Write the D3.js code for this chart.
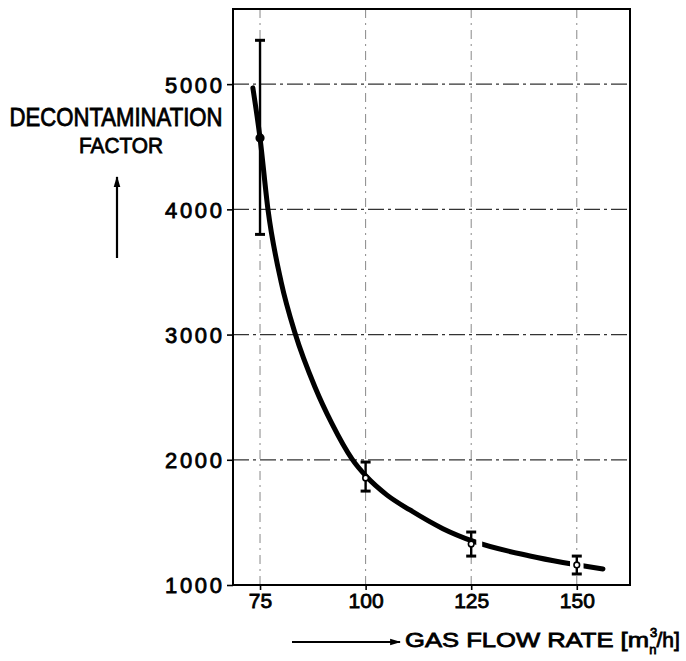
<!DOCTYPE html>
<html>
<head>
<meta charset="utf-8">
<script src="https://cdn.jsdelivr.net/npm/d3@7/dist/d3.min.js"></script>
<style>
  html, body { margin: 0; padding: 0; background: #fff; }
  svg { display: block; }
  text { font-family: "Liberation Sans", Arial, sans-serif; fill: #000; }
</style>
</head>
<body>
<svg id="chart" width="686" height="661"></svg>
<script>
// ---- data ----
const xTicks = [75, 100, 125, 150];
const yTicks = [1000, 2000, 3000, 4000, 5000];
const gridX = [75, 100, 125, 150];
const gridY = [2000, 3000, 4000, 5000];
const flowRate = [75, 100, 125, 150];
const factor = [4570, 1855, 1327, 1160];
const errLow = [3800, 1750, 1231, 1088];
const errHigh = [5350, 1982, 1423, 1231];
const curveX = [73.3, 75.0, 76.9, 80.0, 83.3, 88.0, 92.0, 96.8, 100.3, 105.0, 110.5, 118.3, 125.4, 138.9, 146.7, 156.2];
const curveY = [4970, 4569, 3994, 3420, 3010, 2581, 2290, 2005, 1862, 1720, 1599, 1450, 1350, 1232, 1180, 1128];
const curveGaps = [[126.2, 127.6], [148.4, 151.6]];
const yTitle = ["DECONTAMINATION", "FACTOR"];
const xTitle = "GAS FLOW RATE [m";

// ---- layout ----
const L = 233, R = 630, T = 9, B = 585;
const svg = d3.select("#chart");
const x = d3.scaleLinear().domain([68.6, 162.6]).range([L, R]);
const y = d3.scaleLinear().domain([1000, 5600]).range([B, T]);

// grid
svg.append("g").selectAll("line").data(gridY).join("line")
  .attr("x1", L).attr("x2", R).attr("y1", d => y(d)).attr("y2", d => y(d))
  .attr("stroke", "#333").attr("stroke-width", 1.2)
  .attr("stroke-dasharray", "16,4,3,4");
svg.append("g").selectAll("line").data(gridX).join("line")
  .attr("x1", d => x(d)).attr("x2", d => x(d)).attr("y1", T).attr("y2", B)
  .attr("stroke", "#888").attr("stroke-width", 1)
  .attr("stroke-dasharray", "9,5,2,5");

// axes
const yAxis = svg.append("g").attr("transform", `translate(${L},0)`)
  .call(d3.axisLeft(y).tickValues(yTicks).tickSize(6).tickPadding(6).tickFormat(d3.format("d")));
const xAxis = svg.append("g").attr("transform", `translate(0,${B})`)
  .call(d3.axisBottom(x).tickValues(xTicks).tickSize(5).tickPadding(5).tickFormat(d3.format("d")));
[yAxis, xAxis].forEach(g => {
  g.select(".domain").remove();
  g.selectAll(".tick line").attr("stroke", "#000").attr("stroke-width", 1.6);
});
yAxis.selectAll(".tick text")
  .attr("font-size", 22).attr("font-family", "Liberation Sans, Arial, sans-serif")
  .attr("stroke", "#000").attr("stroke-width", 0.8)
  .attr("textLength", 57).attr("lengthAdjust", "spacing")
  .attr("x", -11).attr("dy", "0.36em");
xAxis.selectAll(".tick text")
  .attr("font-size", 21).attr("font-family", "Liberation Sans, Arial, sans-serif")
  .attr("stroke", "#000").attr("stroke-width", 0.8)
  .attr("y", 8).attr("dy", "0.71em");

// frame
svg.append("rect").attr("x", L).attr("y", T).attr("width", R - L).attr("height", B - T)
  .attr("fill", "none").attr("stroke", "#000").attr("stroke-width", 2);

// curve with gaps
const defs = svg.append("defs");
const mask = defs.append("mask").attr("id", "gapmask").attr("maskUnits", "userSpaceOnUse")
  .attr("x", 0).attr("y", 0).attr("width", 686).attr("height", 661);
mask.append("rect").attr("x", 0).attr("y", 0).attr("width", 686).attr("height", 661).attr("fill", "#fff");
mask.selectAll("rect.gap").data(curveGaps).join("rect").attr("class", "gap")
  .attr("x", d => x(d[0])).attr("width", d => x(d[1]) - x(d[0]))
  .attr("y", 0).attr("height", 661).attr("fill", "#000");

const pts = curveX.map((v, i) => [v, curveY[i]]);
svg.append("path").datum(pts)
  .attr("d", d3.line().x(d => x(d[0])).y(d => y(d[1])).curve(d3.curveMonotoneX))
  .attr("fill", "none").attr("stroke", "#000").attr("stroke-width", 5)
  .attr("stroke-linecap", "round").attr("mask", "url(#gapmask)");

// error bars
const eb = svg.append("g");
flowRate.forEach((fr, i) => {
  const cx = x(fr);
  eb.append("line").attr("x1", cx).attr("x2", cx).attr("y1", y(errLow[i])).attr("y2", y(errHigh[i]))
    .attr("stroke", "#000").attr("stroke-width", 2.4);
  [errLow[i], errHigh[i]].forEach(v => {
    eb.append("line").attr("x1", cx - 5).attr("x2", cx + 5).attr("y1", y(v)).attr("y2", y(v))
      .attr("stroke", "#000").attr("stroke-width", 3);
  });
  eb.append("circle").attr("cx", cx).attr("cy", y(factor[i])).attr("r", i === 0 ? 3.8 : 2.8)
    .attr("fill", i === 0 ? "#000" : "#fff").attr("stroke", "#000").attr("stroke-width", 1.6);
});

// y title
svg.append("text").attr("x", 116).attr("y", 126).attr("text-anchor", "middle")
  .attr("font-size", 25).attr("stroke", "#000").attr("stroke-width", 0.8)
  .attr("textLength", 213).attr("lengthAdjust", "spacingAndGlyphs").text(yTitle[0]);
svg.append("text").attr("x", 121).attr("y", 153).attr("text-anchor", "middle")
  .attr("font-size", 22).attr("stroke", "#000").attr("stroke-width", 0.8)
  .attr("textLength", 84).attr("lengthAdjust", "spacingAndGlyphs").text(yTitle[1]);

// arrows
defs.append("marker").attr("id", "ah").attr("viewBox", "0 0 10 10").attr("refX", 9).attr("refY", 5)
  .attr("markerWidth", 11).attr("markerHeight", 11).attr("markerUnits", "userSpaceOnUse")
  .attr("orient", "auto").append("path").attr("d", "M0,2 L10,5 L0,8 Z").attr("fill", "#000");
svg.append("line").attr("x1", 117).attr("x2", 117).attr("y1", 258).attr("y2", 177)
  .attr("stroke", "#000").attr("stroke-width", 2.2).attr("marker-end", "url(#ah)");
svg.append("line").attr("x1", 292).attr("x2", 400).attr("y1", 642).attr("y2", 642)
  .attr("stroke", "#000").attr("stroke-width", 1.8).attr("marker-end", "url(#ah)");

// x title
const xt = svg.append("text").attr("x", 405).attr("y", 647)
  .attr("font-size", 21).attr("stroke", "#000").attr("stroke-width", 0.8);
xt.append("tspan").attr("textLength", 244).attr("lengthAdjust", "spacingAndGlyphs").text(xTitle);
xt.append("tspan").attr("font-size", 13).attr("dx", 1).attr("dy", -10).text("3");
xt.append("tspan").attr("font-size", 13).attr("dx", -8).attr("dy", 17).text("n");
xt.append("tspan").attr("dy", -7).text("/h]");
</script>
</body>
</html>
